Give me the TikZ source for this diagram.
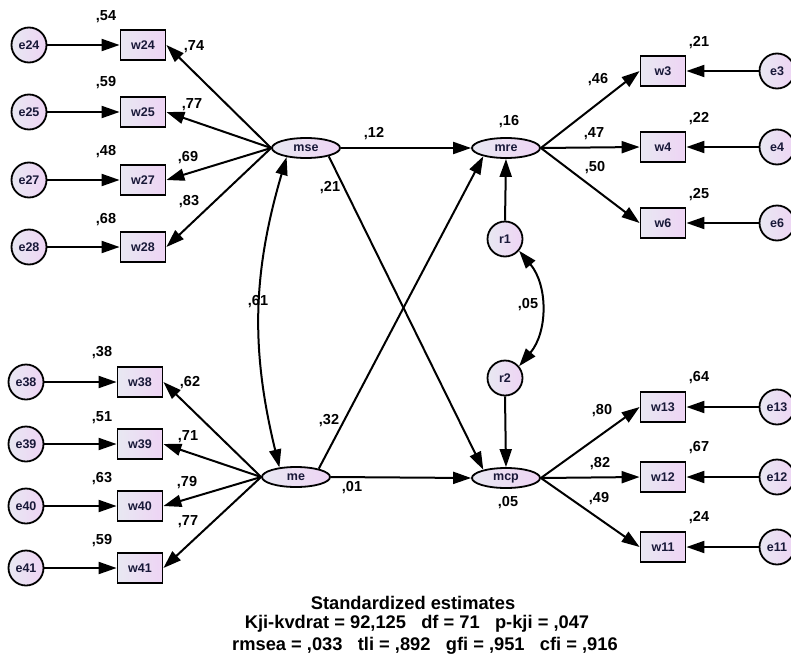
\documentclass[tikz,border=0pt]{standalone}
\usepackage{fontspec}
\setmainfont{Liberation Sans}
\usetikzlibrary{positioning}
\usetikzlibrary{shapes.geometric}
\usetikzlibrary{arrows.meta}
\definecolor{lavlight}{RGB}{232,232,242}
\definecolor{lavpink}{RGB}{238,212,244}
\definecolor{nodetext}{RGB}{24,24,56}

\begin{document}
\begin{tikzpicture}[x=1pt,y=-1pt,
  obs/.style={draw, line width=1.8pt, minimum width=45pt, minimum height=30pt, inner sep=0pt,
    left color=lavlight, right color=lavpink, text=nodetext, font=\fontsize{12.5}{14}\selectfont\bfseries},
  err/.style={draw, circle, line width=1.8pt, minimum size=35pt, inner sep=0pt,
    left color=lavlight, right color=lavpink, text=nodetext, font=\fontsize{12.5}{14}\selectfont\bfseries},
  lat/.style={draw, ellipse, line width=1.8pt, minimum width=68pt, minimum height=20pt, inner sep=0pt,
    left color=lavlight, right color=lavpink, text=nodetext, font=\fontsize{12.5}{14}\selectfont\bfseries},
  lbl/.style={font=\fontsize{14.5}{16}\selectfont\bfseries, inner sep=0pt},
  fitline/.style={font=\fontsize{18.3}{21}\selectfont\bfseries, inner sep=0pt},
  path/.style={line width=2pt, -{Triangle[length=18pt,width=12pt]}},
  both/.style={line width=2pt, {Triangle[length=18pt,width=12pt]}-{Triangle[length=18pt,width=12pt]}}
]
\useasboundingbox (0,0) rectangle (791,661);

% latent variables
\node[lat] (mse) at (306,148) {mse};
\node[lat] (me) at (296,477) {me};
\node[lat] (mre) at (506,148) {mre};
\node[lat] (mcp) at (506,478) {mcp};
\node[err] (r1) at (505,239) {r1};
\node[err] (r2) at (505,378) {r2};

% left upper block
\node[err] (e24) at (29,45) {e24};
\node[err] (e25) at (29,112) {e25};
\node[err] (e27) at (29,180) {e27};
\node[err] (e28) at (29,247) {e28};
\node[obs] (w24) at (143,45) {w24};
\node[obs] (w25) at (143,112) {w25};
\node[obs] (w27) at (143,180) {w27};
\node[obs] (w28) at (143,247) {w28};

% left lower block
\node[err] (e38) at (26,382) {e38};
\node[err] (e39) at (26,444) {e39};
\node[err] (e40) at (26,506) {e40};
\node[err] (e41) at (26,568) {e41};
\node[obs] (w38) at (140,382) {w38};
\node[obs] (w39) at (140,444) {w39};
\node[obs] (w40) at (140,506) {w40};
\node[obs] (w41) at (140,568) {w41};

% right blocks
\node[obs] (w3) at (663,71) {w3};
\node[obs] (w4) at (663,147) {w4};
\node[obs] (w6) at (663,223) {w6};
\node[obs] (w13) at (663,407) {w13};
\node[obs] (w12) at (663,477) {w12};
\node[obs] (w11) at (663,547) {w11};
\node[err] (e3) at (777,71) {e3};
\node[err] (e4) at (777,147) {e4};
\node[err] (e6) at (777,223) {e6};
\node[err] (e13) at (777,407) {e13};
\node[err] (e12) at (777,477) {e12};
\node[err] (e11) at (777,547) {e11};

% error arrows
\draw[path] (e24) -- (w24);
\draw[path] (e25) -- (w25);
\draw[path] (e27) -- (w27);
\draw[path] (e28) -- (w28);
\draw[path] (e38) -- (w38);
\draw[path] (e39) -- (w39);
\draw[path] (e40) -- (w40);
\draw[path] (e41) -- (w41);
\draw[path] (e3) -- (w3);
\draw[path] (e4) -- (w4);
\draw[path] (e6) -- (w6);
\draw[path] (e13) -- (w13);
\draw[path] (e12) -- (w12);
\draw[path] (e11) -- (w11);

% loadings
\draw[path] (mse.west) -- (w24.east);
\draw[path] (mse.west) -- (w25.east);
\draw[path] (mse.west) -- (w27.east);
\draw[path] (mse.west) -- (w28.east);
\draw[path] (me.west) -- (w38.east);
\draw[path] (me.west) -- (w39.east);
\draw[path] (me.west) -- (w40.east);
\draw[path] (me.west) -- (w41.east);
\draw[path] (mre.east) -- (w3.west);
\draw[path] (mre.east) -- (w4.west);
\draw[path] (mre.east) -- (w6.west);
\draw[path] (mcp.east) -- (w13.west);
\draw[path] (mcp.east) -- (w12.west);
\draw[path] (mcp.east) -- (w11.west);

% structural paths
\draw[path] (mse.east) -- (mre.west);
\draw[path] (me.east) -- (mcp.west);
\draw[path] (mse.-20) -- (mcp.160);
\draw[path] (me.20) -- (mre.200);
\draw[path] (r1.north) -- (mre.south);
\draw[path] (r2.south) -- (mcp.north);

% covariances
\draw[both] (mse.205) to[bend right=15] (me.150);
\draw[both] (r1.-40) to[bend left=40] (r2.40);

% estimates
\node[lbl] (l54) at (106,17) {,54};
\node[lbl] (l59a) at (106,83) {,59};
\node[lbl] (l48) at (106,152) {,48};
\node[lbl] (l68) at (106,220) {,68};
\node[lbl] (l74) at (194,47) {,74};
\node[lbl] (l77a) at (192,105) {,77};
\node[lbl] (l69) at (188,158) {,69};
\node[lbl] (l83) at (189,202) {,83};

\node[lbl] (l38) at (102,353) {,38};
\node[lbl] (l51) at (102,418) {,51};
\node[lbl] (l63) at (102,479) {,63};
\node[lbl] (l59b) at (102,541) {,59};
\node[lbl] (l62) at (190,383) {,62};
\node[lbl] (l71) at (188,437) {,71};
\node[lbl] (l79) at (187,483) {,79};
\node[lbl] (l77b) at (188,522) {,77};

\node[lbl] (l12) at (374,134) {,12};
\node[lbl] (l21a) at (330,188) {,21};
\node[lbl] (l61) at (258,302) {,61};
\node[lbl] (l32) at (329,421) {,32};
\node[lbl] (l01) at (352,488) {,01};
\node[lbl] (l16) at (509,122) {,16};
\node[lbl] (l05a) at (508,503) {,05};
\node[lbl] (l05b) at (528,305) {,05};

\node[lbl] (l46) at (598,80) {,46};
\node[lbl] (l47) at (594,134) {,47};
\node[lbl] (l50) at (595,168) {,50};
\node[lbl] (l21b) at (699,43) {,21};
\node[lbl] (l22) at (699,119) {,22};
\node[lbl] (l25) at (699,195) {,25};

\node[lbl] (l80) at (602,411) {,80};
\node[lbl] (l82) at (600,464) {,82};
\node[lbl] (l49) at (599,499) {,49};
\node[lbl] (l64) at (699,378) {,64};
\node[lbl] (l67) at (699,448) {,67};
\node[lbl] (l24) at (699,518) {,24};

% fit summary
\node[fitline] (title) at (413,603) {Standardized estimates};
\node[fitline] (fitA) at (417,624) {Kji-kvdrat = 92,125\ \ \ df = 71\ \ \ p-kji = ,047};
\node[fitline] (fitB) at (425,646) {rmsea = ,033\ \ \ tli = ,892\ \ \ gfi = ,951\ \ \ cfi = ,916};
\end{tikzpicture}
\end{document}
